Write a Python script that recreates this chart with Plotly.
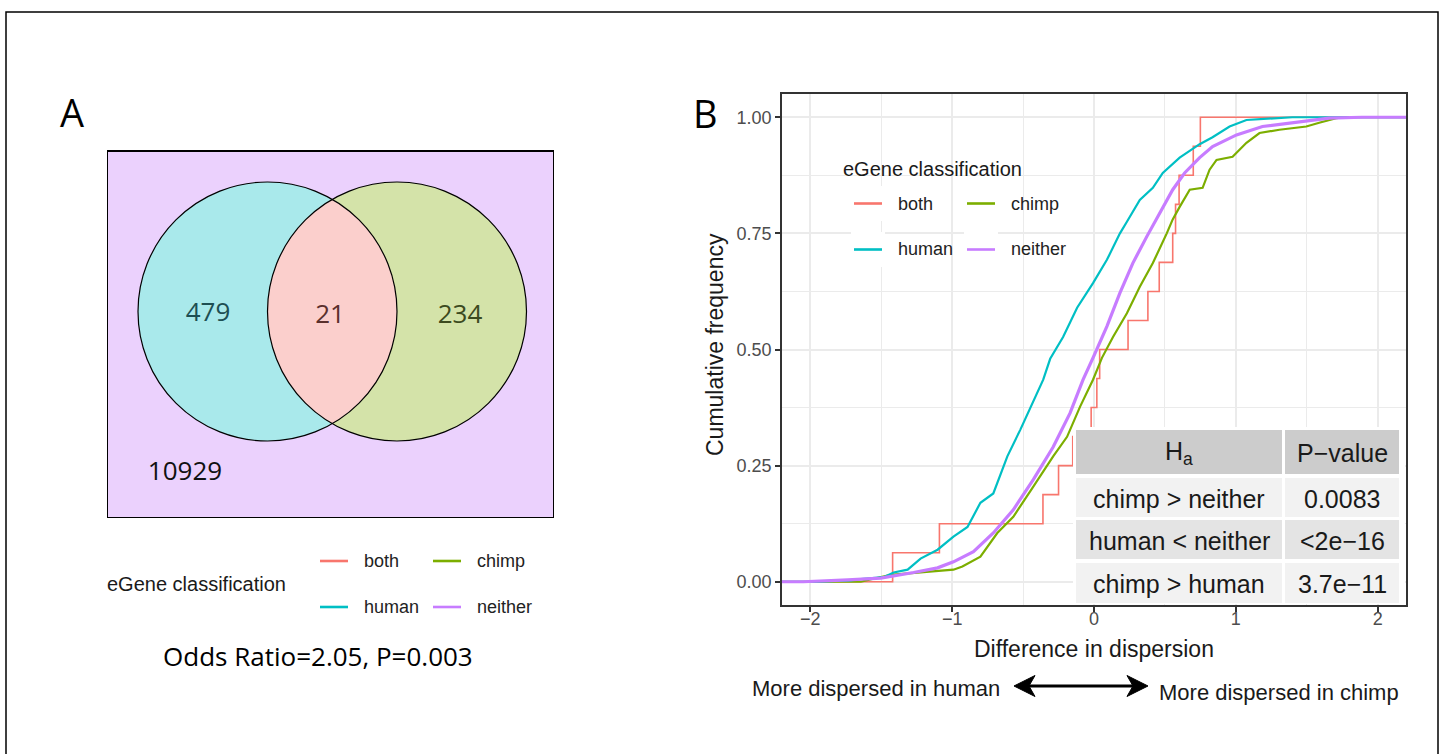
import numpy as np
import plotly.graph_objects as go

W, H = 1445, 754
def PX(x): return x / W
def PY(y): return 1 - y / H

SANS = "Liberation Sans, Arial, sans-serif"
OPEN = "Open Sans, sans-serif"

# ---------------- data ----------------
groups = ["both", "chimp", "human", "neither"]
group_colors = ["#F8766D", "#7CAE00", "#00BFC4", "#C77CFF"]
group_widths = [1.6, 2.2, 2.2, 3.2]

# sorted dispersion differences for the 'both' genes (step ECDF)
both_vals = [-1.42, -1.09, -0.36, -0.25, -0.15, -0.02, 0.02, 0.04, 0.24, 0.38,
             0.46, 0.555, 0.575, 0.60, 0.70, 0.75]

human_x = [-1.95, -1.715, -1.644, -1.483, -1.413, -1.314, -1.223, -1.103, -0.991, -0.892,
           -0.801, -0.710, -0.611, -0.520, -0.428, -0.358, -0.309, -0.218, -0.119, -0.007,
           0.091, 0.183, 0.232, 0.323, 0.415, 0.485, 0.604, 0.745, 0.836, 0.956,
           1.075, 1.216, 1.398]
human_y = [0.0, 0.003, 0.006, 0.010, 0.020, 0.026, 0.050, 0.069, 0.097, 0.118,
           0.170, 0.190, 0.270, 0.327, 0.390, 0.435, 0.480, 0.527, 0.590, 0.643,
           0.693, 0.750, 0.775, 0.822, 0.848, 0.880, 0.913, 0.942, 0.957, 0.980,
           0.994, 0.997, 1.0]

chimp_x = [-1.644, -1.434, -1.202, -0.991, -0.928, -0.801, -0.682, -0.569, -0.428, -0.288,
           -0.190, -0.098, -0.007, 0.056, 0.134, 0.232, 0.323, 0.415, 0.513, 0.555,
           0.604, 0.675, 0.766, 0.815, 0.864, 0.977, 1.075, 1.167, 1.307, 1.497,
           1.588, 1.708, 1.778]
chimp_y = [0.0, 0.015, 0.020, 0.026, 0.033, 0.054, 0.105, 0.140, 0.205, 0.270,
           0.312, 0.377, 0.435, 0.482, 0.527, 0.578, 0.635, 0.686, 0.750, 0.780,
           0.807, 0.844, 0.848, 0.887, 0.908, 0.915, 0.945, 0.966, 0.973, 0.980,
           0.988, 0.998, 1.0]

neither_x = [-2.05, -1.736, -1.504, -1.272, -1.103, -0.991, -0.850, -0.710, -0.569, -0.428,
             -0.288, -0.169, -0.077, -0.007, 0.091, 0.183, 0.274, 0.372, 0.464, 0.555,
             0.639, 0.745, 0.836, 1.005, 1.188, 1.427, 1.658, 1.890]
neither_y = [0.0, 0.004, 0.008, 0.020, 0.030, 0.043, 0.065, 0.105, 0.155, 0.220,
             0.290, 0.363, 0.435, 0.482, 0.550, 0.622, 0.686, 0.743, 0.794, 0.844,
             0.880, 0.913, 0.937, 0.962, 0.980, 0.990, 0.998, 1.0]

x_ticks = [-2, -1, 0, 1, 2]
y_ticks = [0, 0.25, 0.5, 0.75, 1.0]

venn_regions = ["human", "both", "chimp", "neither"]
venn_counts = [479, 21, 234, 10929]

table_header = ["H<sub>a</sub>", "P\u2212value"]
table_hyp = ["chimp &gt; neither", "human &lt; neither", "chimp &gt; human"]
table_pval = ["0.0083", "&lt;2e\u221216", "3.7e\u221211"]

odds_text = "Odds Ratio=2.05, P=0.003"

# ---------------- figure ----------------
fig = go.Figure()

both_ecdf = [(i + 1) / len(both_vals) for i in range(len(both_vals))]
series = {
    "both": ([-2.5] + both_vals + [2.5], [0] + both_ecdf + [1], "hv"),
    "chimp": ([-2.5] + chimp_x + [2.5], [0] + chimp_y + [1], "linear"),
    "human": ([-2.5] + human_x + [2.5], [0] + human_y + [1], "linear"),
    "neither": ([-2.5] + neither_x + [2.5], [0] + neither_y + [1], "linear"),
}
for g, c, w in zip(groups, group_colors, group_widths):
    xs, ys, shp = series[g]
    fig.add_trace(go.Scatter(x=xs, y=ys, mode="lines", name=g,
                             line=dict(color=c, width=w, shape=shp),
                             xaxis="x", yaxis="y", showlegend=False, hoverinfo="skip"))

# Venn diagram (panel A) in pixel-unit axes
cx1, cx2, cyv, rv = 267.5, 397.0, 311.5, 129.5
venn_pos_x = [208, 330, 460, 185]
venn_pos_y = [314, 316, 316, 473]
venn_text_colors = ["#1D4F53", "#5A302C", "#3C4A1E", "#111111"]
fig.add_trace(go.Scatter(x=venn_pos_x, y=venn_pos_y, mode="text",
                         text=[str(v) for v in venn_counts],
                         textfont=dict(family=OPEN, size=26, color=venn_text_colors),
                         xaxis="x2", yaxis="y2", showlegend=False, hoverinfo="skip"))

shapes = []
# outer border
shapes.append(dict(type="rect", xref="paper", yref="paper", x0=PX(6), x1=PX(1438),
                   y0=PY(770), y1=PY(12), line=dict(color="black", width=1.5),
                   fillcolor="rgba(0,0,0,0)", layer="above"))
# venn box
shapes.append(dict(type="rect", xref="x2", yref="y2", x0=107, x1=554, y0=151, y1=518,
                   fillcolor="#EBD1FD", line=dict(color="black", width=2), layer="below"))
shapes.append(dict(type="circle", xref="x2", yref="y2", x0=cx1 - rv, x1=cx1 + rv,
                   y0=cyv - rv, y1=cyv + rv, fillcolor="#A9E9EB", line=dict(width=0), layer="below"))
shapes.append(dict(type="circle", xref="x2", yref="y2", x0=cx2 - rv, x1=cx2 + rv,
                   y0=cyv - rv, y1=cyv + rv, fillcolor="#D4E3A9", line=dict(width=0), layer="below"))
a = (cx2 - cx1) / 2
hh = np.sqrt(rv ** 2 - a ** 2)
t1 = np.linspace(np.arctan2(-hh, -a) + 2 * np.pi, np.arctan2(hh, -a), 60)
t2 = np.linspace(np.arctan2(hh, a), np.arctan2(-hh, a), 60)
pts = [(cx2 + rv * np.cos(t), cyv + rv * np.sin(t)) for t in t1] + \
      [(cx1 + rv * np.cos(t), cyv + rv * np.sin(t)) for t in t2]
lens = "M " + " L ".join(f"{x:.2f},{y:.2f}" for x, y in pts) + " Z"
shapes.append(dict(type="path", xref="x2", yref="y2", path=lens, fillcolor="#FBCFCC",
                   line=dict(width=0), layer="below"))
for cx in (cx1, cx2):
    shapes.append(dict(type="circle", xref="x2", yref="y2", x0=cx - rv, x1=cx + rv,
                       y0=cyv - rv, y1=cyv + rv, fillcolor="rgba(0,0,0,0)",
                       line=dict(color="black", width=1.2), layer="below"))

annotations = []
def txt(x, y, s, size, color="#1A1A1A", family=SANS, xanchor="center", **kw):
    annotations.append(dict(x=PX(x), y=PY(y), xref="paper", yref="paper", text=s,
                            showarrow=False, xanchor=xanchor, yanchor="middle",
                            font=dict(size=size, color=color, family=family), **kw))

# panel letters
txt(72, 112, "A", 38, "black", OPEN)
txt(705, 113, "B", 38, "black", OPEN)

# table (panel B)
shapes.append(dict(type="rect", xref="paper", yref="paper", x0=PX(1073), x1=PX(1405),
                   y0=PY(604), y1=PY(427), fillcolor="white", line=dict(width=0), layer="above"))
col_x = [(1076, 1282), (1285, 1399)]
row_y = [(430, 474), (478, 517), (520, 559), (563, 603)]
row_fill = ["#CCCCCC", "#F2F2F2", "#E4E4E4", "#F2F2F2"]
rows = [table_header] + [[h, p] for h, p in zip(table_hyp, table_pval)]
for ri, (row, (ya, yb)) in enumerate(zip(rows, row_y)):
    for ci, (cell, (xa, xb)) in enumerate(zip(row, col_x)):
        shapes.append(dict(type="rect", xref="paper", yref="paper", x0=PX(xa), x1=PX(xb),
                           y0=PY(yb), y1=PY(ya), fillcolor=row_fill[ri],
                           line=dict(width=0), layer="above"))
        txt((xa + xb) / 2, (ya + yb) / 2 + 1, cell, 25, "#1A1A1A")

# legends
def legend_block(x0, y0, title_x, title_y, with_boxes):
    col_off = [0, 113]
    row_off = [0, 46]
    order = [["both", "chimp"], ["human", "neither"]]
    for r in range(2):
        for c in range(2):
            g = order[r][c]
            col = group_colors[groups.index(g)]
            kx = x0 + col_off[c]
            ky = y0 + row_off[r]
            if with_boxes:
                shapes.append(dict(type="rect", xref="paper", yref="paper",
                                   x0=PX(kx - 3), x1=PX(kx + 31), y0=PY(ky + 17.5), y1=PY(ky - 17.5),
                                   fillcolor="white", line=dict(width=0), layer="above"))
            shapes.append(dict(type="line", xref="paper", yref="paper", x0=PX(kx), x1=PX(kx + 28),
                               y0=PY(ky), y1=PY(ky), line=dict(color=col, width=2.6), layer="above"))
            txt(kx + 42, ky, g, 18, "#222222", xanchor="left")
    txt(title_x, title_y, "eGene classification", 20, "#1A1A1A", xanchor="left")

legend_block(854, 203.5, 841, 169, True)
legend_block(320, 561, 105, 584, False)

txt(318, 656, odds_text, 26, "black", OPEN)

# axis titles
txt(1094, 649, "Difference in dispersion", 23, "#1A1A1A")
annotations.append(dict(x=PX(715), y=PY(345), xref="paper", yref="paper",
                        text="Cumulative frequency", showarrow=False, textangle=-90,
                        xanchor="center", yanchor="middle",
                        font=dict(size=23, color="#1A1A1A", family=SANS)))

# double-headed arrow (line + two heads) with captions
ay_ = 686
shapes.append(dict(type="line", xref="paper", yref="paper", x0=PX(1022), x1=PX(1140),
                   y0=PY(ay_), y1=PY(ay_), line=dict(color="black", width=3), layer="above"))
def head(tip, direction):
    d = direction
    p = [(tip, ay_), (tip + d * 21, ay_ - 10.5), (tip + d * 15, ay_), (tip + d * 21, ay_ + 10.5)]
    return "M " + " L ".join(f"{PX(x):.5f},{PY(y):.5f}" for x, y in p) + " Z"
shapes.append(dict(type="path", xref="paper", yref="paper", path=head(1014, 1),
                   fillcolor="black", line=dict(color="black", width=1), layer="above"))
shapes.append(dict(type="path", xref="paper", yref="paper", path=head(1148, -1),
                   fillcolor="black", line=dict(color="black", width=1), layer="above"))
txt(1002, 688, "More dispersed in human", 22, "#1A1A1A", xanchor="right")
txt(1157, 692, "More dispersed in chimp", 22, "#1A1A1A", xanchor="left")

axis_common = dict(ticks="outside", ticklen=5, tickwidth=1.5, tickcolor="#333333",
                   tickfont=dict(size=18, color="#4D4D4D", family=SANS),
                   showgrid=True, gridcolor="#EBEBEB", gridwidth=1.6,
                   showline=True, mirror=True, linecolor="#333333", linewidth=1.6,
                   zeroline=False)

fig.update_layout(
    width=W, height=754, autosize=False,
    margin=dict(l=0, r=0, t=0, b=0),
    paper_bgcolor="white", plot_bgcolor="white",
    showlegend=False,
    xaxis=dict(domain=[PX(782), PX(1406)], range=[-2.2, 2.2], tickvals=x_ticks,
               ticklabelstandoff=-8,
               minor=dict(tickvals=[-1.5, -0.5, 0.5, 1.5], showgrid=True,
                          gridcolor="#EBEBEB", gridwidth=1.2, ticks=""),
               anchor="y", **axis_common),
    yaxis=dict(domain=[PY(605), PY(94)], range=[-0.05, 1.05], tickvals=y_ticks,
               tickformat=".2f",
               minor=dict(tickvals=[0.125, 0.375, 0.625, 0.875], showgrid=True,
                          gridcolor="#EBEBEB", gridwidth=1.2, ticks=""),
               anchor="x", **axis_common),
    xaxis2=dict(domain=[PX(107), PX(554)], range=[107, 554], visible=False, anchor="y2",
                fixedrange=True),
    yaxis2=dict(domain=[PY(518), PY(150)], range=[518, 150], visible=False, anchor="x2",
                fixedrange=True),
    shapes=shapes,
    annotations=annotations,
)

fig.write_html("out.html")
